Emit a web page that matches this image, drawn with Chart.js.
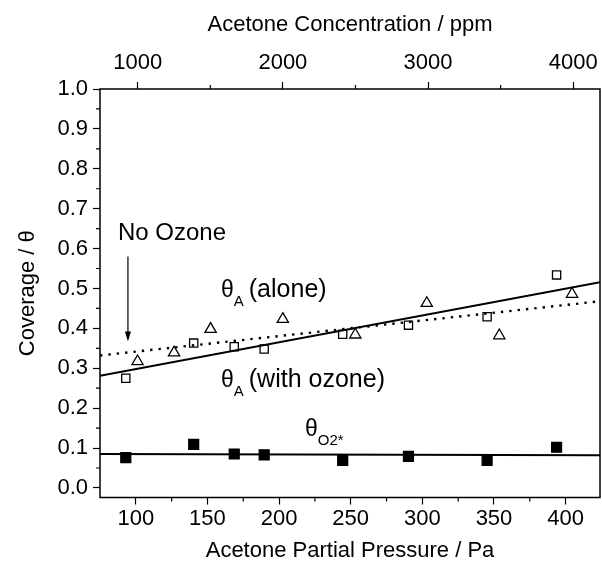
<!DOCTYPE html>
<html>
<head>
<meta charset="utf-8">
<script src="https://cdn.jsdelivr.net/npm/chart.js@4/dist/chart.umd.min.js"></script>
<style>
  html, body {margin: 0; padding: 0; background: #fff;}
  .chart-wrap {position: relative; width: 602px; height: 564px;}
</style>
</head>
<body>
<div class="chart-wrap">
  <canvas id="coverage-chart"></canvas>
</div>
<script>
// data
const pressurePa = [93.0, 140.4, 168.7, 189.6, 244.4, 290.3, 345.2, 393.7];
const thetaWithOzone = [0.275, 0.363, 0.354, 0.348, 0.385, 0.408, 0.429, 0.534];
const thetaO2 = [0.076, 0.109, 0.085, 0.083, 0.069, 0.079, 0.069, 0.102];

const pressureAlonePa = [101.2, 126.7, 152.2, 202.6, 253.2, 303.1, 353.7, 404.5];
const thetaAlone = [0.317, 0.339, 0.398, 0.423, 0.384, 0.463, 0.382, 0.486];

// linear fits (end values)
const fitRangePa = [75, 424];
const fitWithOzone = [0.281, 0.5155];
const fitAlone = [0.332, 0.468];
const fitO2 = [0.085, 0.082];

// axes
const pressureTicks = [100, 150, 200, 250, 300, 350, 400];
const pressureMinorTicks = [125, 175, 225, 275, 325, 375];
const concTicks = [1000, 2000, 3000, 4000];
const concMinorTicks = [1500, 2500, 3500];
const coverageTicks = [0, 0.1, 0.2, 0.3, 0.4, 0.5, 0.6, 0.7, 0.8, 0.9, 1.0];
const coverageMinorTicks = [0.05, 0.15, 0.25, 0.35, 0.45, 0.55, 0.65, 0.75, 0.85, 0.95];

const PA_TO_PPM = 1e6 / 101325;
const FONT = `"Liberation Sans", Arial, sans-serif`;
const MAJOR_TICK = 7;
const MINOR_TICK = 4;

const toPoints = (xs, ys) => xs.map((x, i) => ({x, y: ys[i]}));
const setTicks = (values) => (scale) => {
  scale.ticks = values.map((value) => ({value}));
};
// fixed axis boxes so the plot area sits where the original one does
const fixBox = (size) => (scale) => {
  if (scale.isHorizontal()) {
    scale.height = size;
  } else {
    scale.width = size;
  }
  scale.paddingLeft = 0;
  scale.paddingRight = 0;
  scale.paddingTop = 0;
  scale.paddingBottom = 0;
};

const markerSet = (label, xs, ys, style, radius, fill) => ({
  label,
  data: toPoints(xs, ys),
  showLine: false,
  pointStyle: style,
  pointRadius: radius,
  pointHoverRadius: radius,
  pointBorderWidth: 1.3,
  borderColor: `#000`,
  backgroundColor: fill,
  pointBackgroundColor: fill
});

const fitLine = (label, ys, dash) => ({
  label,
  data: toPoints(fitRangePa, ys),
  showLine: true,
  pointRadius: 0,
  borderColor: `#000`,
  borderWidth: dash.length ? 2.4 : 2,
  borderDash: dash,
  borderCapStyle: `butt`,
  fill: false
});

// frame, minor ticks, labels and arrow
const decorPlugin = {
  id: `decor`,
  afterDraw(chart) {
    const {ctx, chartArea: area, scales} = chart;
    ctx.save();
    ctx.strokeStyle = `#000`;
    ctx.lineWidth = 1.5;
    ctx.strokeRect(area.left, area.top, area.right - area.left, area.bottom - area.top);

    ctx.lineWidth = 1.2;
    ctx.beginPath();
    pressureMinorTicks.forEach((v) => {
      const x = scales.x.getPixelForValue(v);
      ctx.moveTo(x, area.bottom);
      ctx.lineTo(x, area.bottom + MINOR_TICK);
    });
    concMinorTicks.forEach((v) => {
      const x = scales.x2.getPixelForValue(v);
      ctx.moveTo(x, area.top);
      ctx.lineTo(x, area.top - MINOR_TICK);
    });
    coverageMinorTicks.forEach((v) => {
      const y = scales.y.getPixelForValue(v);
      ctx.moveTo(area.left, y);
      ctx.lineTo(area.left - MINOR_TICK, y);
    });
    ctx.stroke();

    // arrow to the first point
    const ax = scales.x.getPixelForValue(94.5);
    const yFrom = scales.y.getPixelForValue(0.58);
    const yTo = scales.y.getPixelForValue(0.367);
    ctx.lineWidth = 1.2;
    ctx.beginPath();
    ctx.moveTo(ax, yFrom);
    ctx.lineTo(ax, yTo - 6);
    ctx.stroke();
    ctx.fillStyle = `#000`;
    ctx.beginPath();
    ctx.moveTo(ax, yTo);
    ctx.lineTo(ax - 3, yTo - 10);
    ctx.lineTo(ax + 3, yTo - 10);
    ctx.closePath();
    ctx.fill();

    const writeTheta = (x, y, sub, rest) => {
      ctx.font = `23px ${FONT}`;
      ctx.textBaseline = `alphabetic`;
      ctx.textAlign = `left`;
      ctx.fillText(`θ`, x, y);
      const w = ctx.measureText(`θ`).width;
      ctx.font = `15px ${FONT}`;
      ctx.fillText(sub, x + w, y + 9);
      const sw = ctx.measureText(sub).width;
      if (rest) {
        ctx.font = `25px ${FONT}`;
        ctx.fillText(rest, x + w + sw + 5, y);
      }
    };

    ctx.font = `24px ${FONT}`;
    ctx.textAlign = `left`;
    ctx.textBaseline = `alphabetic`;
    ctx.fillText(`No Ozone`, 118, 240);

    writeTheta(221, 297, `A`, `(alone)`);
    writeTheta(221, 387, `A`, `(with ozone)`);
    writeTheta(305, 436, `O2*`, ``);
    ctx.restore();
  }
};

const axisFont = {family: FONT, size: 22};

new Chart(document.getElementById(`coverage-chart`), {
  type: `scatter`,
  data: {
    datasets: [
      fitLine(`fit with ozone`, fitWithOzone, []),
      fitLine(`fit alone`, fitAlone, [2.4, 6]),
      fitLine(`fit O2*`, fitO2, []),
      markerSet(`θA (with ozone)`, pressurePa, thetaWithOzone, `rect`, 5.8, `rgba(0,0,0,0)`),
      markerSet(`θA (alone)`, pressureAlonePa, thetaAlone, `triangle`, 6.5, `rgba(0,0,0,0)`),
      markerSet(`θO2*`, pressurePa, thetaO2, `rect`, 7, `#000`)
    ]
  },
  options: {
    responsive: true,
    maintainAspectRatio: false,
    animation: false,
    layout: {autoPadding: false, padding: {left: 0, right: 2, top: 0, bottom: 0}},
    plugins: {
      legend: {display: false},
      tooltip: {enabled: false}
    },
    scales: {
      x: {
        type: `linear`,
        position: `bottom`,
        min: fitRangePa[0],
        max: fitRangePa[1],
        afterBuildTicks: setTicks(pressureTicks),
        afterFit: fixBox(66.5),
        grid: {drawOnChartArea: false, tickLength: MAJOR_TICK, tickColor: `#000`, tickWidth: 1.2},
        border: {display: false},
        ticks: {color: `#000`, font: axisFont, padding: 1, maxRotation: 0},
        title: {display: true, text: `Acetone Partial Pressure / Pa`, color: `#000`, font: axisFont, padding: {top: 0, bottom: 0}}
      },
      x2: {
        type: `linear`,
        position: `top`,
        min: fitRangePa[0] * PA_TO_PPM,
        max: fitRangePa[1] * PA_TO_PPM,
        afterBuildTicks: setTicks(concTicks),
        afterFit: fixBox(89),
        grid: {drawOnChartArea: false, tickLength: MAJOR_TICK, tickColor: `#000`, tickWidth: 1.2},
        border: {display: false},
        ticks: {color: `#000`, font: axisFont, padding: 6, maxRotation: 0, callback: (v) => String(v)},
        title: {display: true, text: `Acetone Concentration / ppm`, color: `#000`, font: axisFont, padding: {top: 12, bottom: 0}}
      },
      y: {
        type: `linear`,
        position: `left`,
        min: -0.024,
        max: 1.0,
        afterBuildTicks: setTicks(coverageTicks),
        afterFit: fixBox(100),
        grid: {drawOnChartArea: false, tickLength: MAJOR_TICK, tickColor: `#000`, tickWidth: 1.2},
        border: {display: false},
        ticks: {color: `#000`, font: axisFont, padding: 5, callback: (v) => v.toFixed(1)},
        title: {display: true, text: `Coverage / θ`, color: `#000`, font: axisFont, padding: {top: 15, bottom: 0}}
      }
    }
  },
  plugins: [decorPlugin]
});
</script>
</body>
</html>
